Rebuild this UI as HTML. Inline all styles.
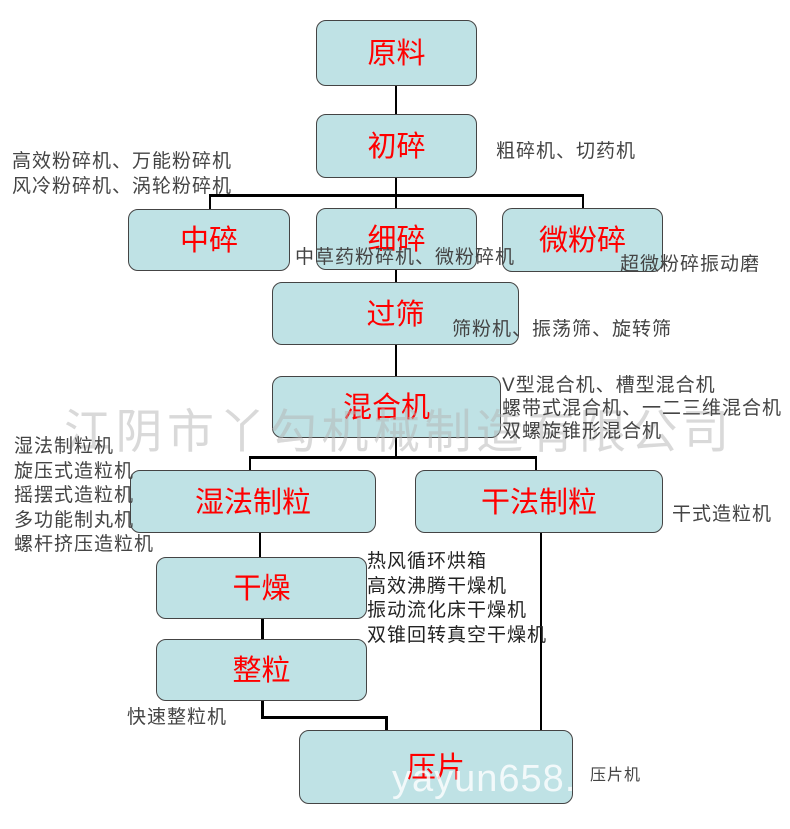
<!DOCTYPE html>
<html><head><meta charset="utf-8"><style>
body{margin:0;width:790px;height:829px;background:#fff;position:relative;overflow:hidden;font-family:"Liberation Serif","Noto Serif CJK SC","Noto Sans CJK SC",serif}
.b{position:absolute;background:#bfe2e5;border:1.5px solid #444;border-radius:10px;box-sizing:border-box;color:#f00;font-size:29px;display:flex;align-items:center;justify-content:center;padding-bottom:4px;font-family:"Liberation Sans","Noto Sans CJK SC",sans-serif}
.t{position:absolute;color:#444;font-size:19px;letter-spacing:1px;line-height:24.5px;white-space:nowrap;font-family:"Liberation Sans","Noto Sans CJK SC",sans-serif}
.l{position:absolute;background:#000}
.wm{position:absolute;color:rgba(180,180,180,0.5);font-size:47px;white-space:nowrap;font-family:"Liberation Sans","Noto Sans CJK SC",sans-serif;letter-spacing:4.5px}
</style></head><body>
<div class="l" style="left:395px;top:85px;width:2px;height:30px"></div>
<div class="l" style="left:395px;top:178px;width:2px;height:30px"></div>
<div class="l" style="left:209px;top:194px;width:375px;height:3px"></div>
<div class="l" style="left:209px;top:194px;width:2px;height:16px"></div>
<div class="l" style="left:582px;top:194px;width:2px;height:14px"></div>
<div class="l" style="left:395px;top:270px;width:2px;height:12px"></div>
<div class="l" style="left:395px;top:345px;width:2px;height:32px"></div>
<div class="l" style="left:395px;top:438px;width:2px;height:19px"></div>
<div class="l" style="left:249px;top:456px;width:288px;height:3px"></div>
<div class="l" style="left:249px;top:456px;width:2px;height:14px"></div>
<div class="l" style="left:535px;top:456px;width:2px;height:14px"></div>
<div class="l" style="left:259px;top:532px;width:2px;height:25px"></div>
<div class="l" style="left:540px;top:532px;width:1.5px;height:198px"></div>
<div class="l" style="left:261px;top:618px;width:3px;height:22px"></div>
<div class="l" style="left:261px;top:700px;width:3px;height:18px"></div>
<div class="l" style="left:261px;top:716px;width:126px;height:3px"></div>
<div class="l" style="left:385px;top:716px;width:3px;height:14px"></div>

<div class="b" style="left:316px;top:20px;width:161px;height:66px">原料</div>
<div class="b" style="left:316px;top:114px;width:161px;height:64px">初碎</div>
<div class="b" style="left:128px;top:209px;width:162px;height:62px">中碎</div>
<div class="b" style="left:316px;top:208px;width:161px;height:62px">细碎</div>
<div class="b" style="left:502px;top:208px;width:161px;height:64px">微粉碎</div>
<div class="b" style="left:272px;top:282px;width:247px;height:63px">过筛</div>
<div class="b" style="left:272px;top:376px;width:229px;height:62px">混合机</div>
<div class="b" style="left:130px;top:470px;width:246px;height:63px">湿法制粒</div>
<div class="b" style="left:415px;top:470px;width:248px;height:63px">干法制粒</div>
<div class="b" style="left:156px;top:557px;width:211px;height:62px">干燥</div>
<div class="b" style="left:156px;top:639px;width:211px;height:62px">整粒</div>
<div class="b" style="left:299px;top:730px;width:274px;height:74px">压片</div>

<div class="wm" style="left:64px;top:393px">江阴市丫勾机械制造有限公司</div>
<div class="wm" style="left:392px;top:758px;color:rgba(255,255,255,0.8);font-size:38px;letter-spacing:1px">yayun658.</div>

<div class="t" style="left:12px;top:150px">高效粉碎机、万能粉碎机<br>风冷粉碎机、涡轮粉碎机</div>
<div class="t" style="left:496px;top:140px">粗碎机、切药机</div>
<div class="t" style="left:295px;top:246px">中草药粉碎机、微粉碎机</div>
<div class="t" style="left:620px;top:253px">超微粉碎振动磨</div>
<div class="t" style="left:452px;top:318px">筛粉机、振荡筛、旋转筛</div>
<div class="t" style="left:502px;top:374px;line-height:23px">V型混合机、槽型混合机<br>螺带式混合机、一二三维混合机<br>双螺旋锥形混合机</div>
<div class="t" style="left:14px;top:435px">湿法制粒机<br>旋压式造粒机<br>摇摆式造粒机<br>多功能制丸机<br>螺杆挤压造粒机</div>
<div class="t" style="left:672px;top:503px">干式造粒机</div>
<div class="t" style="left:367px;top:550px;color:#222">热风循环烘箱<br>高效沸腾干燥机<br>振动流化床干燥机<br>双锥回转真空干燥机</div>
<div class="t" style="left:127px;top:706px">快速整粒机</div>
<div class="t" style="left:590px;top:764px;font-size:16px">压片机</div>
</body></html>
